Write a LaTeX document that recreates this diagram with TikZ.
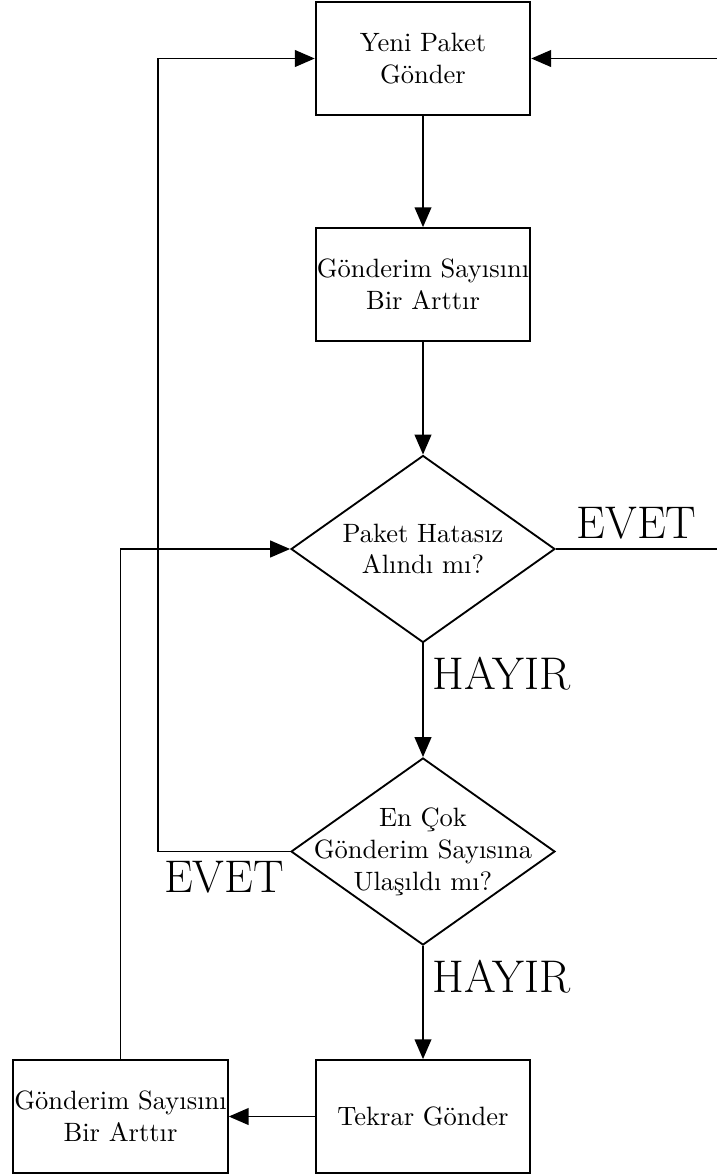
\documentclass[tikz,border=0pt]{standalone}
\usetikzlibrary{arrows.meta,shapes.geometric}
\begin{document}
\begin{tikzpicture}[x=0.3774pt,y=-0.3774pt,
  line width=0.7pt,
  arr/.style={-{Triangle[length=7.5pt,width=6.3pt]}},
  box/.style={draw, rectangle, minimum width=81pt, minimum height=42.6pt, inner sep=0pt, align=center},
  dec/.style={draw, diamond, minimum width=99.6pt, minimum height=70.6pt, inner sep=0pt},
  lbl/.style={font=\LARGE}]
\useasboundingbox (0,0) rectangle (717,1176);

% process boxes and decisions
\node[box] (send) at (423,58.5) {Yeni Paket\\Gönder};
\node[box] (inc) at (423,284.5) {Gönderim Sayısını\\Bir Arttır};
\node[dec] (ok) at (423,549) {};
\node[align=center] (oktxt) at (ok) {Paket Hatasız\\Alındı mı?};
\node[dec] (max) at (423,851.5) {};
\node[align=center] (maxtxt) at (max) {En Çok\\Gönderim Sayısına\\Ulaşıldı mı?};
\node[box] (resend) at (423,1116.5) {Tekrar Gönder};
\node[box] (inc2) at (120.5,1116.5) {Gönderim Sayısını\\Bir Arttır};

% free ends at the right edge and the left return column
\coordinate (rin) at (717,58.5);
\coordinate (rout) at (717,549);
\coordinate (lx) at (158,0);

% main flow
\draw[arr] (send) -- (inc);
\draw[arr] (inc) -- (ok);
\draw[arr] (ok) -- node[lbl, right, pos=0.27] {HAYIR} (max);
\draw[arr] (max) -- node[lbl, right, pos=0.27] {HAYIR} (resend);
\draw[arr] (resend) -- (inc2);
\draw[arr] (rin) -- (send);
\draw (ok) -- node[lbl, above] {EVET} (rout);

% return paths
\draw[arr] (max.west) -- node[lbl, below] {EVET} (lx |- max.west) |- (send.west);
\draw[arr] (inc2.north) |- (ok.west);
\end{tikzpicture}
\end{document}
